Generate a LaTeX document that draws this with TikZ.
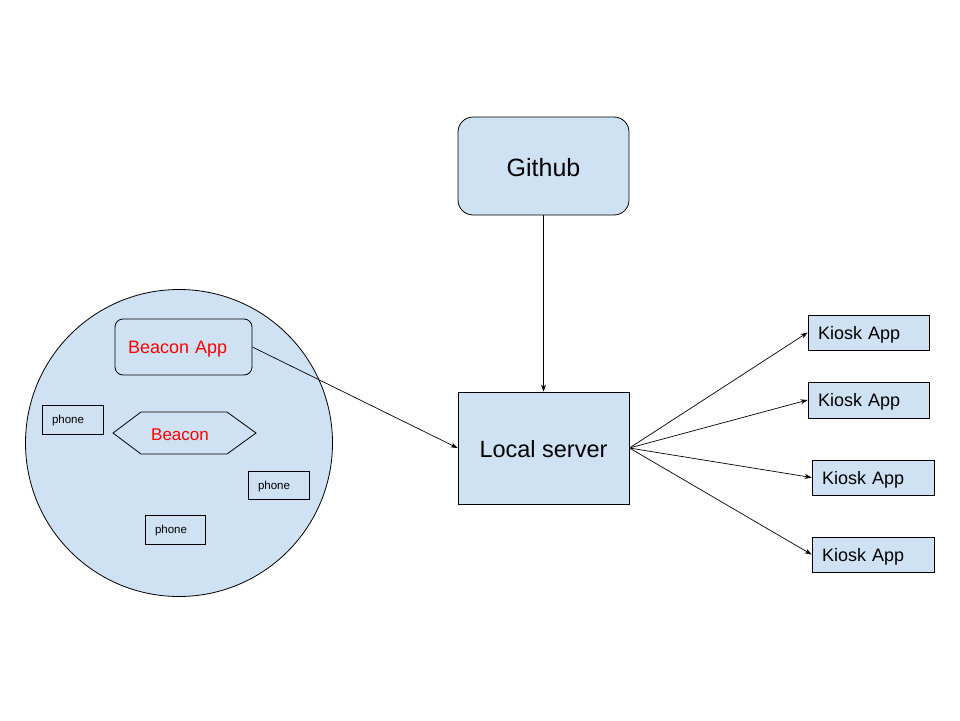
\documentclass[tikz,border=0pt]{standalone}
\usepackage{fontspec}
\setmainfont{Liberation Sans}
\usetikzlibrary{arrows.meta}
\definecolor{boxfill}{HTML}{CFE2F3}
\definecolor{redtext}{HTML}{FF0000}
\newcommand\lowertext[2]{\raisebox{-#1}[\height][\depth]{#2}}
\tikzset{
  box/.style={draw=black, fill=boxfill, line width=0.8pt, inner sep=0pt},
  kiosk/.style={box, minimum height=35, text width=101, inner xsep=10, align=left, font=\fontsize{18}{20}\selectfont},
  phonebox/.style={box, minimum width=61, minimum height=29, text width=51, inner xsep=0, align=left, font=\fontsize{11.5}{13}\selectfont},
  conn/.style={line width=0.7pt, -{Stealth[length=7pt,width=5pt]}}
}
\begin{document}
\begin{tikzpicture}[x=1pt,y=-1pt]
\useasboundingbox (0,0) rectangle (960,720);
\node[box, circle, minimum size=307] (zone) at (179,443) {};
\node[box, rounded corners=8, minimum width=137, minimum height=56, text width=115, inner xsep=11, align=left, text=redtext, font=\fontsize{18}{20}\selectfont] (beaconapp) at (183.5,347) {\hspace*{2pt}\lowertext{2.5pt}{Beacon App}};
\draw[box] (113,433) -- (141,412) -- (227,412) -- (256,433) -- (227,454) -- (141,454) -- cycle;
\node[text=redtext, font=\fontsize{17}{19}\selectfont] (beacon) at (180,434) {\lowertext{1pt}{Beacon}};
\node[phonebox] (phone1) at (72.5,419.5) {\hspace*{5pt}\lowertext{1.5pt}{phone}};
\node[phonebox, minimum height=28] (phone2) at (278.5,485) {\hspace*{5pt}\lowertext{1.5pt}{phone}};
\node[phonebox, minimum width=60, text width=50] (phone3) at (175,529.5) {\hspace*{5pt}\lowertext{1.5pt}{phone}};
\node[box, rounded corners=15, minimum width=171, minimum height=98, font=\fontsize{25}{28}\selectfont] (github) at (543.5,166) {\lowertext{1.5pt}{Github}};
\node[box, minimum width=171, minimum height=112, font=\fontsize{23.5}{26}\selectfont] (local) at (543.5,448) {\lowertext{1pt}{Local server}};
\node[kiosk] (k1) at (868.5,332.5) {\lowertext{2pt}{Kiosk App}};
\node[kiosk, minimum height=36] (k2) at (868.5,400) {\lowertext{2pt}{Kiosk App}};
\node[kiosk, text width=102] (k3) at (873,477.5) {\lowertext{2pt}{Kiosk App}};
\node[kiosk, text width=102] (k4) at (873,554.5) {\lowertext{2pt}{Kiosk App}};
\draw[conn] (github.south) -- (local.north);
\draw[conn] (beaconapp.east) -- (local.west);
\draw[conn] (local.east) -- (k1.west);
\draw[conn] (local.east) -- (k2.west);
\draw[conn] (local.east) -- (k3.west);
\draw[conn] (local.east) -- (k4.west);
\end{tikzpicture}
\end{document}
